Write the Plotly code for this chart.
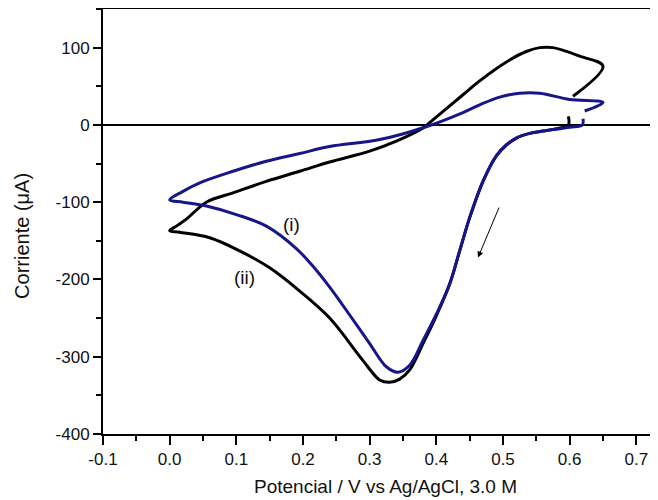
import plotly.graph_objects as go

# Curve (i) - blue
blue_x = [0.620, 0.619, 0.600, 0.560, 0.540, 0.520, 0.505, 0.490, 0.470, 0.450, 0.435, 0.420, 0.400, 0.380, 0.360,
          0.3425, 0.325, 0.300, 0.270, 0.240, 0.215, 0.190, 0.145, 0.100, 0.055, 0.020, 0.000,
          0.020, 0.045, 0.095, 0.145, 0.195, 0.240, 0.315, 0.3825, 0.440, 0.465, 0.495, 0.525,
          0.555, 0.600, 0.650, 0.6225]
blue_y = [8, 0, -3, -8, -11, -17, -26, -40, -73, -120, -163, -206, -245, -279, -311,
          -320, -313, -283, -246, -210, -183, -160, -131, -116, -105, -100, -97,
          -86, -75, -60, -47, -37, -28, -19, -3, 16, 26, 36, 41,
          41, 33, 29, 18]

# Curve (ii) - black
black_x = [0.598, 0.598, 0.580, 0.560, 0.540, 0.520, 0.505, 0.490, 0.470, 0.450, 0.435, 0.420, 0.400, 0.380, 0.360,
           0.345, 0.330, 0.315, 0.290, 0.240, 0.195, 0.150, 0.105, 0.060, 0.015, 0.000,
           0.010, 0.025, 0.055, 0.095, 0.145, 0.195, 0.240, 0.300, 0.340, 0.380, 0.390, 0.440,
           0.465, 0.510, 0.535, 0.555, 0.575, 0.615, 0.650, 0.605]
black_y = [11, 0, -5, -8, -11, -17, -26, -40, -73, -120, -163, -206, -247, -283, -317,
           -329, -333, -330, -305, -250, -215, -185, -163, -146, -139, -137,
           -131, -122, -100, -88, -73, -60, -48, -34, -21, -4, 3, 39,
           57, 84, 95, 100, 100, 89, 76, 37]

x_ticks = [-0.1, 0.0, 0.1, 0.2, 0.3, 0.4, 0.5, 0.6, 0.7]
x_ticktext = ["-0.1", "0.0", "0.1", "0.2", "0.3", "0.4", "0.5", "0.6", "0.7"]
y_ticks = [-400, -300, -200, -100, 0, 100]
y_ticktext = ["-400", "-300", "-200", "-100", "0", "100"]

FONT = "Liberation Sans, Arial, sans-serif"

fig = go.Figure()
fig.add_trace(go.Scatter(x=black_x, y=black_y, mode="lines",
                         line=dict(color="#000000", width=3), line_shape="spline",
                         showlegend=False, hoverinfo="skip"))
fig.add_trace(go.Scatter(x=blue_x, y=blue_y, mode="lines",
                         line=dict(color="#16168a", width=3), line_shape="spline",
                         showlegend=False, hoverinfo="skip"))

fig.update_layout(
    width=650, height=492,
    margin=dict(l=95, r=0, t=1, b=66),
    paper_bgcolor="white", plot_bgcolor="white",
    font=dict(family=FONT, size=17, color="#111111"),
    xaxis=dict(range=[-0.1, 0.7325], tickvals=x_ticks, ticktext=x_ticktext,
               showgrid=False, zeroline=False, showline=True, linecolor="black", linewidth=2,
               mirror=True, ticks="outside", ticklen=9, tickwidth=1.5, tickcolor="black",
               minor=dict(dtick=0.05, tick0=0, ticks="outside", ticklen=5, tickwidth=1.5, tickcolor="black"),
               tickfont=dict(size=17)),
    yaxis=dict(range=[-400, 150], tickvals=y_ticks, ticktext=y_ticktext,
               showgrid=False, zeroline=True, zerolinecolor="black", zerolinewidth=1.5,
               showline=True, linecolor="black", linewidth=2, mirror=False,
               ticks="outside", ticklen=8, tickwidth=1.5, tickcolor="black",
               minor=dict(dtick=50, tick0=0, ticks="outside", ticklen=5, tickwidth=1.5, tickcolor="black"),
               tickfont=dict(size=17)),
    annotations=[
        dict(text="Potencial / V vs Ag/AgCl, 3.0 M", xref="paper", yref="paper",
             x=0.509, y=-0.124, xanchor="center", yanchor="middle", showarrow=False,
             font=dict(size=19)),
        dict(text="Corriente (μA)", xref="paper", yref="paper",
             x=-0.146, y=0.466, xanchor="center", yanchor="middle", textangle=-90,
             showarrow=False, font=dict(size=20)),
        dict(text="(i)", x=0.1825, y=-128.5, xref="x", yref="y", showarrow=False,
             font=dict(size=19)),
        dict(text="(ii)", x=0.1125, y=-197, xref="x", yref="y", showarrow=False,
             font=dict(size=19)),
        dict(text="", x=0.4625, y=-171.6, ax=0.495, ay=-105, xref="x", yref="y",
             axref="x", ayref="y", showarrow=True, arrowhead=2, arrowsize=1.2,
             arrowwidth=1, arrowcolor="black"),
    ],
)

fig.write_html("out.html")
